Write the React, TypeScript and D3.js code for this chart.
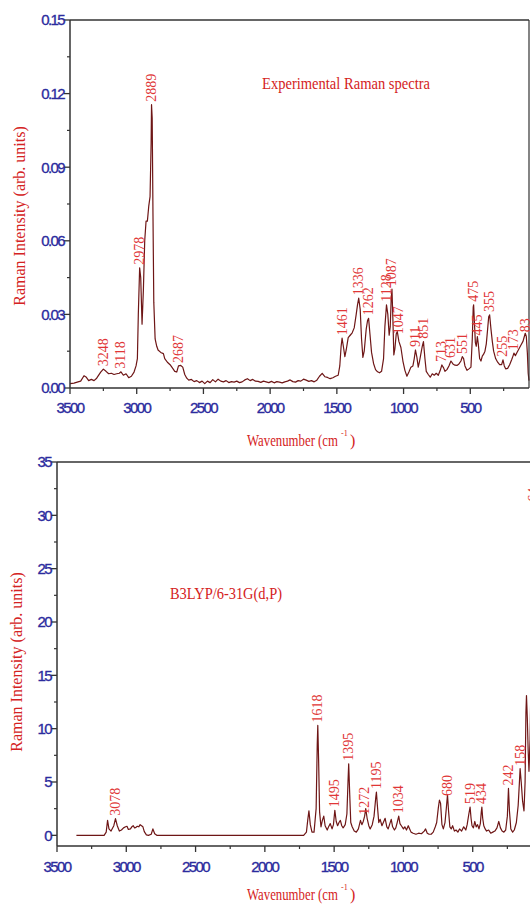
import React from "react";
import * as d3 from "d3";

// experimental Raman spectrum: wavenumber (cm-1) / intensity
const expWave = [
  3500, 3470, 3440, 3420, 3395, 3380, 3360, 3340, 3320, 3300, 3270, 3250, 3230, 3210, 3190, 3170, 3150, 3130, 3118, 3100,
  3080, 3060, 3040, 3020, 3005, 2995, 2988, 2978, 2970, 2960, 2950, 2940, 2930, 2920, 2910, 2900, 2892, 2889, 2884, 2878,
  2872, 2862, 2850, 2840, 2820, 2800, 2790, 2770, 2750, 2730, 2715, 2700, 2687, 2670, 2655, 2640, 2625, 2610, 2590, 2570,
  2550, 2530, 2510, 2490, 2470, 2450, 2430, 2410, 2390, 2370, 2350, 2330, 2310, 2290, 2270, 2250, 2230, 2210, 2190, 2170,
  2150, 2130, 2110, 2090, 2070, 2050, 2030, 2010, 1990, 1970, 1950, 1930, 1910, 1890, 1870, 1850, 1830, 1810, 1790, 1770,
  1750, 1730, 1710, 1690, 1670, 1650, 1630, 1610, 1590, 1570, 1550, 1530, 1510, 1490, 1478, 1468, 1461, 1450, 1440, 1430,
  1415, 1400, 1385, 1370, 1355, 1345, 1336, 1325, 1315, 1305, 1295, 1280, 1270, 1262, 1252, 1240, 1225, 1210, 1195, 1180,
  1165, 1150, 1140, 1128, 1118, 1108, 1100, 1093, 1087, 1080, 1073, 1065, 1055, 1047, 1035, 1020, 1005, 990, 975, 960,
  945, 930, 920, 911, 900, 890, 880, 870, 860, 851, 840, 830, 815, 800, 785, 770, 755, 740, 725, 713,
  700, 690, 675, 660, 645, 630, 615, 600, 585, 570, 560, 550, 540, 525, 510, 495, 485, 478, 475, 470,
  462, 455, 447, 440, 430, 420, 410, 400, 390, 380, 370, 362, 355, 345, 335, 325, 310, 295, 280, 265,
  255, 245, 235, 220, 205, 190, 180, 173, 162, 150, 135, 120, 105, 95, 88, 80, 72, 66, 60,
];
const expInt = [
  0.0018, 0.002, 0.0025, 0.0028, 0.005, 0.0045, 0.003, 0.0035, 0.003, 0.004, 0.0065, 0.0077, 0.0068, 0.0058, 0.006, 0.0055, 0.0058, 0.006, 0.0066, 0.0052,
  0.0058, 0.0042, 0.0048, 0.0065, 0.009, 0.012, 0.03, 0.049, 0.045, 0.026, 0.04, 0.06, 0.068, 0.068, 0.074, 0.078, 0.1, 0.1155, 0.11, 0.07,
  0.035, 0.02, 0.017, 0.0155, 0.0145, 0.014, 0.012, 0.0105, 0.0095, 0.008, 0.0068, 0.0065, 0.009, 0.0092, 0.0085, 0.0055, 0.004, 0.0032, 0.0035, 0.0026,
  0.003, 0.0022, 0.0028, 0.0018, 0.0028, 0.0022, 0.0034, 0.0025, 0.0036, 0.0028, 0.0025, 0.003, 0.0022, 0.0026, 0.0024, 0.0028, 0.0022, 0.0025, 0.0033, 0.0038,
  0.003, 0.0035, 0.0028, 0.0027, 0.0023, 0.0028, 0.0025, 0.0022, 0.0027, 0.0021, 0.0026, 0.0024, 0.0021, 0.0025, 0.0028, 0.0033, 0.0026, 0.0024, 0.003, 0.0028,
  0.0036, 0.0032, 0.0027, 0.003, 0.0025, 0.0032, 0.0048, 0.006, 0.0046, 0.0043, 0.0038, 0.0042, 0.0048, 0.0052, 0.009, 0.017, 0.0203, 0.0165, 0.0128, 0.0155,
  0.0205, 0.0215, 0.0225, 0.0245, 0.03, 0.034, 0.0366, 0.032, 0.02, 0.0125, 0.015, 0.024, 0.0275, 0.0284, 0.022, 0.0145, 0.01, 0.0075, 0.0066, 0.0062,
  0.0068, 0.012, 0.025, 0.0339, 0.03, 0.0215, 0.025, 0.036, 0.0403, 0.028, 0.0135, 0.016, 0.022, 0.023, 0.019, 0.0165, 0.011, 0.0072, 0.0048, 0.0065,
  0.0085, 0.009, 0.012, 0.0155, 0.0125, 0.0085, 0.011, 0.014, 0.017, 0.0189, 0.012, 0.0068, 0.0055, 0.0044, 0.0058, 0.0052, 0.006, 0.0052, 0.0072, 0.0094,
  0.0082, 0.0068, 0.0075, 0.009, 0.011, 0.0098, 0.0093, 0.0092, 0.0098, 0.011, 0.0128, 0.012, 0.009, 0.0072, 0.0078, 0.0085, 0.02, 0.033, 0.0339, 0.028,
  0.0185, 0.017, 0.021, 0.018, 0.012, 0.011, 0.013, 0.0138, 0.015, 0.018, 0.024, 0.029, 0.0298, 0.024, 0.019, 0.015, 0.012, 0.0105, 0.0095, 0.0095,
  0.0115, 0.009, 0.0078, 0.008, 0.0095, 0.0115, 0.013, 0.0142, 0.0132, 0.0145, 0.016, 0.0175, 0.019, 0.021, 0.0223, 0.021, 0.014, 0.006, 0.003,
];
const expPeakWave = [3248, 3118, 2978, 2889, 2687, 1461, 1336, 1262, 1128, 1087, 1040, 911, 851, 713, 645, 558, 475, 445, 355, 255, 173, 83];
const expPeakText = ["3248", "3118", "2978", "2889", "2687", "1461", "1336", "1262", "1128", "1087", "1047", "911", "851", "713", "631", "551", "475", "445", "355", "255", "173", "83"];

// B3LYP/6-31G(d,P) computed spectrum
const calcWave = [
  3360, 3160, 3145, 3135, 3125, 3110, 3090, 3078, 3065, 3050, 3035, 3020, 3005, 2995, 2985, 2970, 2960, 2950, 2940, 2930,
  2920, 2910, 2900, 2890, 2880, 2870, 2855, 2840, 2820, 2808, 2795, 2780, 1720, 1700, 1690, 1682, 1672, 1660, 1645, 1630,
  1622, 1618, 1612, 1605, 1595, 1585, 1575, 1565, 1550, 1540, 1528, 1515, 1505, 1495, 1485, 1475, 1465, 1455, 1445, 1435,
  1420, 1408, 1400, 1395, 1388, 1380, 1370, 1355, 1340, 1325, 1310, 1300, 1290, 1280, 1272, 1262, 1250, 1240, 1225, 1212,
  1200, 1195, 1188, 1178, 1168, 1155, 1145, 1132, 1120, 1110, 1098, 1088, 1078, 1065, 1055, 1045, 1034, 1025, 1015, 1000,
  990, 978, 965, 955, 945, 930, 910, 890, 870, 850, 840, 828, 815, 800, 785, 770, 760, 748, 740, 732,
  722, 712, 700, 690, 682, 675, 665, 655, 645, 632, 620, 607, 595, 580, 565, 550, 540, 528, 519, 512,
  505, 495, 485, 475, 465, 455, 445, 438, 434, 428, 420, 410, 400, 385, 370, 355, 340, 325, 312, 300,
  288, 275, 262, 250, 242, 235, 225, 212, 200, 185, 172, 162, 158, 150, 140, 130, 122, 116, 112, 106,
  100, 94, 86, 78, 70, 64, 58, 50,
];
const calcInt = [
  0, 0, 0.3, 1.4, 0.6, 0.4, 0.9, 1.56, 0.9, 0.4, 0.5, 0.7, 0.8, 0.85, 0.55, 0.6, 0.8, 0.9, 0.7, 0.75,
  0.85, 0.8, 1.0, 0.9, 0.8, 0.35, 0.05, 0, 0.1, 0.6, 0.15, 0, 0, 0.3, 1.5, 2.3, 1.0, 0.3, 0.3, 2.5,
  8.5, 10.3, 7, 2.2, 0.8, 1.4, 1.8, 0.9, 0.5, 0.8, 1.1, 0.6, 1.0, 2.35, 1.3, 0.9, 1.2, 1.4, 0.9, 0.7,
  1.0, 2.0, 5.0, 6.7, 4.0, 1.2, 0.8, 0.4, 0.3, 0.6, 1.4, 1.0, 1.3, 1.8, 2.5, 1.6, 0.9, 0.6, 1.0, 1.8,
  3.5, 4.06, 2.8, 1.2, 1.5, 0.9, 1.2, 1.6, 0.8, 0.6, 1.1, 1.5, 0.8, 0.5, 0.7, 1.2, 1.8, 1.1, 0.9, 0.6,
  0.8, 0.5, 0.9, 0.6, 0.3, 0.2, 0.1, 0.2, 0.15, 0.4, 0.6, 0.2, 0.1, 0.1, 0.3, 0.8, 1.2, 2.6, 3.3, 3.0,
  1.0, 0.6, 1.2, 2.6, 3.8, 2.4, 0.8, 0.6, 0.9, 0.4, 0.5, 0.3, 0.6, 0.4, 0.8, 0.5, 1.0, 2.0, 2.65, 1.6,
  0.9, 0.7, 1.3, 0.8, 1.0, 0.6, 1.1, 2.2, 2.65, 1.6, 0.9, 0.6, 0.4, 0.5, 0.2, 0.3, 0.4, 0.7, 1.3, 0.7,
  0.4, 0.3, 0.5, 1.8, 4.4, 2.3, 0.6, 0.3, 0.5, 1.2, 2.8, 5.2, 6.25, 5.0, 3.2, 2.3, 5.0, 11.5, 13.1, 11,
  8, 6, 9, 16, 26, 31, 25, 10,
];
const calcPeakWave = [3078, 1618, 1495, 1395, 1283, 1195, 1034, 680, 519, 434, 242, 158, 64];
const calcPeakText = ["3078", "1618", "1495", "1395", "1272", "1195", "1034", "680", "519", "434", "242", "158", "64"];

const xMajor = [3500, 3000, 2500, 2000, 1500, 1000, 500];
const xMinor = [3250, 2750, 2250, 1750, 1250, 750, 250];
const expYMajor = [0, 0.03, 0.06, 0.09, 0.12, 0.15];
const expYMinor = [0.015, 0.045, 0.075, 0.105, 0.135];
const calcYMajor = [0, 5, 10, 15, 20, 25, 30, 35];
const calcYMinor = [2.5, 7.5, 12.5, 17.5, 22.5, 27.5, 32.5];

const LINE = "#6e1616";
const RED = "#e03636";
const TITLE_RED = "#d42222";
const BLUE = "#2b2b9e";
const AXIS = "#333";
const SERIF = "'Liberation Serif', 'Times New Roman', serif";
const SANS = "'Liberation Sans', Arial, sans-serif";

function interp(wave: number[], inten: number[], w: number) {
  for (let i = 0; i < wave.length - 1; i++) {
    if (w <= wave[i] && w >= wave[i + 1]) {
      const t = (wave[i] - w) / (wave[i] - wave[i + 1]);
      return inten[i] + t * (inten[i + 1] - inten[i]);
    }
  }
  return 0;
}

function Panel({ x, y, right, wave, inten, yMajor, yMinor, yFmt, peakWave, peakText, tickY, titleY, yTitleX, yTitleY, frameRight, note, noteX, noteY, noteLen }: any) {
  const [x0] = x.range();
  const [yBottom, yTop] = y.range();
  const line = d3
    .line<number>()
    .x((_, i) => x(wave[i]))
    .y((d) => y(d));
  const tickStyle = { fontFamily: SANS, fontSize: 15, letterSpacing: -1.6, fill: BLUE, stroke: BLUE, strokeWidth: 0.35 };
  return (
    <g>
      <path d={line(inten) || ""} fill="none" stroke={LINE} strokeWidth={1.2} strokeLinejoin="round" />

      {/* frame */}
      <line x1={x0} x2={right} y1={yTop} y2={yTop} stroke={AXIS} strokeWidth={1.5} />
      {frameRight && <line x1={right} x2={right} y1={yTop} y2={yBottom} stroke={AXIS} strokeWidth={1.2} />}

      {/* x axis */}
      <line x1={x0} x2={right} y1={yBottom} y2={yBottom} stroke={AXIS} strokeWidth={1.5} />
      {xMajor.map((t) => (
        <g key={t}>
          <line x1={x(t)} x2={x(t)} y1={yBottom} y2={yBottom + 6} stroke={AXIS} strokeWidth={1.3} />
          <text x={x(t)} y={tickY} textAnchor="middle" style={tickStyle}>
            {t}
          </text>
        </g>
      ))}
      {xMinor.map((t) => (
        <line key={t} x1={x(t)} x2={x(t)} y1={yBottom} y2={yBottom + 3} stroke={AXIS} strokeWidth={1.2} />
      ))}

      {/* y axis */}
      <line x1={x0} x2={x0} y1={yTop} y2={yBottom} stroke={AXIS} strokeWidth={1.5} />
      {yMajor.map((t: number) => (
        <g key={t}>
          <line x1={x0 - 6} x2={x0} y1={y(t)} y2={y(t)} stroke={AXIS} strokeWidth={1.3} />
          <text x={x0 - 6} y={y(t)} dy="0.36em" textAnchor="end" style={tickStyle}>
            {yFmt(t)}
          </text>
        </g>
      ))}
      {yMinor.map((t: number) => (
        <line key={t} x1={x0 - 3} x2={x0} y1={y(t)} y2={y(t)} stroke={AXIS} strokeWidth={1.2} />
      ))}

      {/* peak labels */}
      {peakWave.map((w: number, i: number) => (
        <text
          key={i}
          transform={`translate(${x(w)},${y(interp(wave, inten, w)) - 3}) rotate(-90)`}
          dominantBaseline="central"
          fontFamily={SERIF}
          fontSize={14}
          fill={RED}
        >
          {peakText[i]}
        </text>
      ))}

      {/* titles */}
      <text
        transform={`translate(${yTitleX},${yTitleY}) rotate(-90)`}
        textAnchor="middle"
        fontFamily={SERIF}
        fontSize={16}
        fill={TITLE_RED}
      >
        Raman Intensity (arb. units)
      </text>
      <text x={247} y={titleY} fontFamily={SERIF} fontSize={16} fill={TITLE_RED} textLength={91} lengthAdjust="spacingAndGlyphs">
        Wavenumber (cm
      </text>
      <text x={341} y={titleY - 10} fontFamily={SERIF} fontSize={8} fill={TITLE_RED}>
        -1
      </text>
      <text x={350} y={titleY} fontFamily={SERIF} fontSize={16} fill={TITLE_RED}>
        )
      </text>
      <text x={noteX} y={noteY} fontFamily={SERIF} fontSize={17} fill={TITLE_RED} textLength={noteLen} lengthAdjust="spacingAndGlyphs">
        {note}
      </text>
    </g>
  );
}

export default function App() {
  const xTop = d3.scaleLinear().domain([3500, 0]).range([70, 537]);
  const yTop = d3.scaleLinear().domain([0, 0.15]).range([388, 20]);
  const xBot = d3.scaleLinear().domain([3500, 0]).range([57, 542]);
  const yBot = d3.scaleLinear().domain([-1, 35]).range([846, 462]);

  return (
    <svg width={530} height={904} style={{ position: "absolute", left: 0, top: 0, background: "#fff" }}>
      <Panel
        x={xTop}
        y={yTop}
        right={529}
        wave={expWave}
        inten={expInt}
        yMajor={expYMajor}
        yMinor={expYMinor}
        yFmt={(t: number) => t.toFixed(2)}
        peakWave={expPeakWave}
        peakText={expPeakText}
        tickY={413}
        titleY={446}
        yTitleX={25}
        yTitleY={216}
        frameRight
        note="Experimental Raman spectra"
        noteX={262}
        noteY={89}
        noteLen={168}
      />
      <Panel
        x={xBot}
        y={yBot}
        right={530}
        wave={calcWave}
        inten={calcInt}
        yMajor={calcYMajor}
        yMinor={calcYMinor}
        yFmt={(t: number) => String(t)}
        peakWave={calcPeakWave}
        peakText={calcPeakText}
        tickY={872}
        titleY={900}
        yTitleX={22}
        yTitleY={662}
        frameRight={false}
        note="B3LYP/6-31G(d,P)"
        noteX={170}
        noteY={599}
        noteLen={112}
      />
    </svg>
  );
}
